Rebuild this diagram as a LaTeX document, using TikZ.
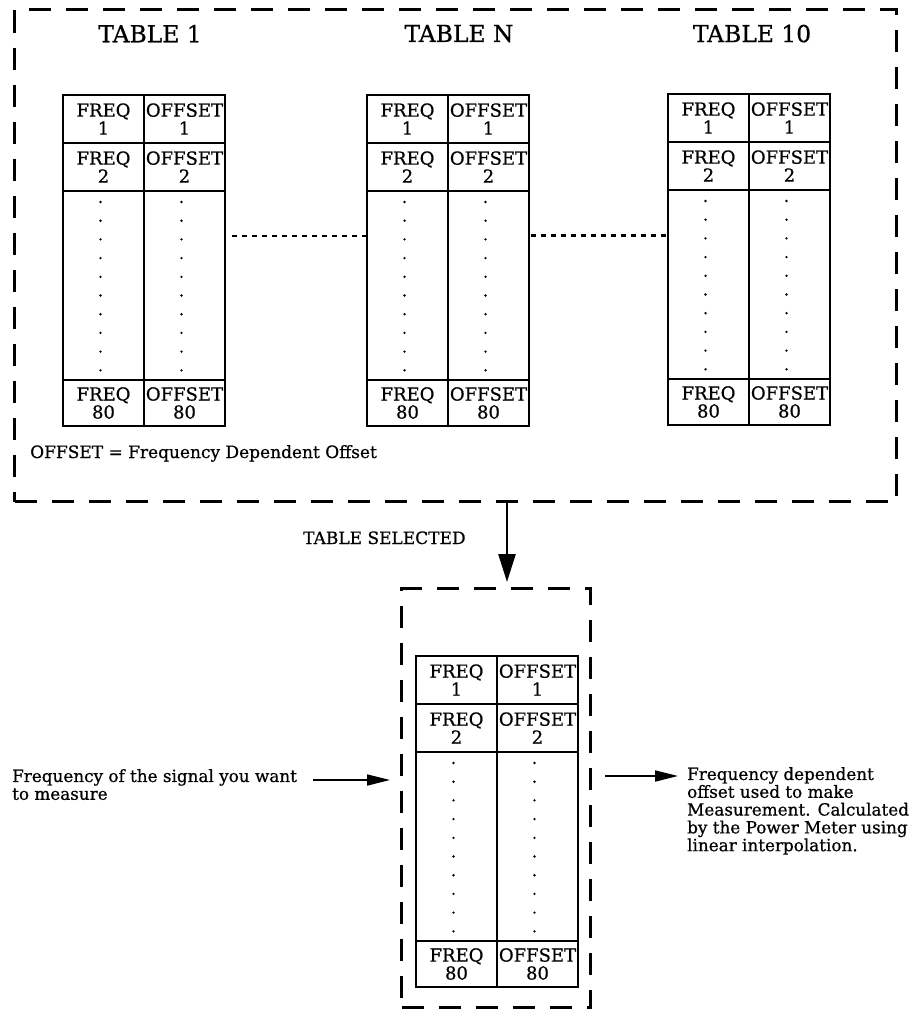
\documentclass[tikz,border=0pt]{standalone}
\usepackage{fontspec}
\setmainfont{DejaVu Serif}[FakeBold=0.7]
\usepackage{tikz}
\usetikzlibrary{arrows.meta, positioning, calc}

\tikzset{
  cell/.style={draw, line width=1.6, inner sep=0, outer sep=0, align=center,
    minimum width=81, minimum height=48, font=\fontsize{18}{18}\selectfont},
  dotcell/.style={cell, minimum height=189},
  endcell/.style={cell, minimum height=46},
  title/.style={inner sep=0, font=\fontsize{23.4}{26}\selectfont},
  note/.style={inner sep=0, font=\fontsize{17}{19}\selectfont},
  side/.style={inner sep=0, align=left, font=\fontsize{16.8}{17.8}\selectfont},
  bigdash/.style={line width=3, dash pattern=on 22 off 15},
  dotline/.style={line width=2.6, dash pattern=on 5 off 5},
  selarrow/.style={line width=2.6, -{Triangle[length=28, width=17]}},
  sidearrow/.style={line width=1.8, -{Triangle[length=23, width=11]}},
}

% one table of 80 frequency / offset pairs, top left corner at (#2,#3)
\newcommand{\offsettable}[3]{%
  \node[cell, anchor=north west] (#1-f1) at (#2,#3) {FREQ\\1};
  \node[cell, right=0pt of #1-f1] (#1-o1) {OFFSET\\1};
  \node[cell, below=0pt of #1-f1] (#1-f2) {FREQ\\2};
  \node[cell, below=0pt of #1-o1] (#1-o2) {OFFSET\\2};
  \node[dotcell, below=0pt of #1-f2] (#1-fd) {};
  \node[dotcell, below=0pt of #1-o2] (#1-od) {};
  \node[endcell, below=0pt of #1-fd] (#1-f80) {FREQ\\80};
  \node[endcell, below=0pt of #1-od] (#1-o80) {OFFSET\\80};
  \foreach \k in {0,...,9} {
    \fill ([xshift=-3, yshift=-11-18.7*\k]#1-fd.north) circle (1.3);
    \fill ([xshift=-3, yshift=-11-18.7*\k]#1-od.north) circle (1.3);
  }
}

\begin{document}
\begin{tikzpicture}[x=1pt, y=-1pt]
  \useasboundingbox (0,0) rectangle (922,1009);

  % the ten stored tables
  \node[bigdash, draw, inner sep=0, minimum width=882, minimum height=492,
    anchor=north west] (alltables) at (13,8) {};
  \node[title] (t1-title) at (150,33.6) {TABLE 1};
  \node[title] (tn-title) at (459,33.6) {TABLE N};
  \node[title] (t10-title) at (752,33.6) {TABLE 10};
  \offsettable{t1}{63}{95}
  \offsettable{tn}{367}{95}
  \offsettable{t10}{668}{94}
  \draw[dotline, shorten <=7] ([yshift=49.5]t1-od.east) -- ([yshift=49.5]tn-fd.west);
  \draw[dotline, shorten <=2] ([yshift=50]tn-od.east) -- ([yshift=50]tn-od.east -| t10-fd.west);
  \node[note, anchor=base west] (legend) at (30,458)
    {OFFSET = Frequency Dependent Offset};

  % the selected table
  \node[bigdash, draw, inner sep=0, minimum width=189, minimum height=419,
    anchor=north west] (selbox) at (400,587) {};
  \offsettable{ts}{416}{656}
  \coordinate (selx) at (507,0);
  \draw[selarrow] (selx |- alltables.south) -- ([yshift=5]selx |- selbox.north);
  \node[note, anchor=base west] (sellabel) at (303,544) {TABLE SELECTED};

  % input and output
  \node[side, anchor=north west] (sigtext) at (12,769)
    {Frequency of the signal you want\\to measure};
  \coordinate (sigin) at (313,780);
  \draw[sidearrow, shorten >=10] (sigin) -- (sigin -| selbox.west);
  \coordinate (offout) at (678,776);
  \draw[sidearrow, shorten <=13] (offout -| selbox.east) -- (offout);
  \node[side, anchor=north west] (offtext) at (687,767)
    {Frequency dependent\\offset used to make\\Measurement. Calculated\\by the Power Meter using\\linear interpolation.};
\end{tikzpicture}
\end{document}
